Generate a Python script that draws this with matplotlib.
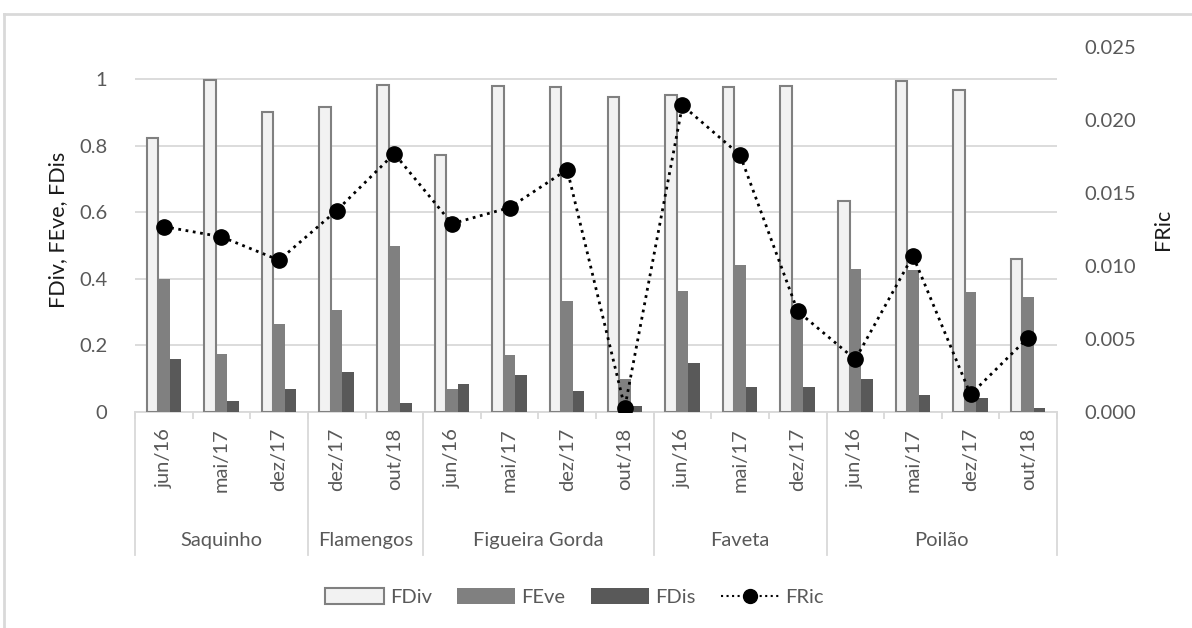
import numpy as np
import matplotlib.pyplot as plt
from matplotlib.patches import Patch
from matplotlib.lines import Line2D

plt.rcParams['font.family'] = ['Lato', 'DejaVu Sans']

# data
sites = ['Saquinho', 'Flamengos', 'Figueira Gorda', 'Faveta', 'Poilão']
site_dates = [
    ['jun/16', 'mai/17', 'dez/17'],
    ['dez/17', 'out/18'],
    ['jun/16', 'mai/17', 'dez/17', 'out/18'],
    ['jun/16', 'mai/17', 'dez/17'],
    ['jun/16', 'mai/17', 'dez/17', 'out/18'],
]
fdiv = [0.822, 0.997, 0.902, 0.917, 0.981, 0.772, 0.979, 0.975, 0.947,
        0.951, 0.975, 0.979, 0.635, 0.995, 0.967, 0.460]
feve = [0.398, 0.174, 0.265, 0.307, 0.500, 0.069, 0.172, 0.334, 0.098,
        0.364, 0.441, 0.305, 0.429, 0.426, 0.359, 0.346]
fdis = [0.160, 0.032, 0.069, 0.119, 0.028, 0.084, 0.110, 0.064, 0.019,
        0.146, 0.076, 0.076, 0.098, 0.051, 0.043, 0.011]
fric = [0.0127, 0.0120, 0.0104, 0.0138, 0.0177, 0.0129, 0.0140, 0.0166, 0.0003,
        0.0210, 0.0176, 0.0069, 0.0036, 0.0107, 0.0012, 0.0051]

dates = [d for grp in site_dates for d in grp]
n = len(dates)
x = np.arange(n)

tick_col = '#595959'
grid_col = '#D9D9D9'
fs = 14.5

fig = plt.figure(figsize=(11.92, 6.28), dpi=100)
W, H = 1192, 628
ax = fig.add_axes([135 / W, 1 - 412 / H, (1057 - 135) / W, (412 - 47) / H])

# figure border (top and left visible)
fig.add_artist(Line2D([4 / W, 1], [1 - 14 / H, 1 - 14 / H], color=grid_col, lw=2))
fig.add_artist(Line2D([4 / W, 4 / W], [0, 1 - 14 / H], color=grid_col, lw=2))

bw = 0.2
ax.bar(x - bw, fdiv, bw, color='#F2F2F2', edgecolor='#808080', linewidth=1.5, zorder=3)
ax.bar(x, feve, bw, color='#808080', zorder=3)
ax.bar(x + bw, fdis, bw, color='#595959', zorder=3)

ax.set_xlim(-0.5, n - 0.5)
ax.set_ylim(0, 1.0 * 365 / 333)
ax.set_yticks(np.arange(0, 1.01, 0.2))
ax.set_yticklabels(['0', '0.2', '0.4', '0.6', '0.8', '1'])
ax.yaxis.grid(True, color=grid_col, lw=1.3, zorder=0)
ax.set_axisbelow(True)
for s in ['top', 'right', 'left']:
    ax.spines[s].set_visible(False)
ax.spines['bottom'].set_color(grid_col)
ax.spines['bottom'].set_linewidth(1.3)
ax.tick_params(axis='y', length=0, labelsize=fs, labelcolor=tick_col, pad=20)
ax.set_xticks(np.arange(-0.5, n, 1.0))
ax.set_xticklabels([])
ax.tick_params(axis='x', length=5, color=grid_col, width=1.3)
ax.set_ylabel('FDiv, FEve, FDis', fontsize=15.5, color='#1a1a1a', labelpad=8)

# two-level category axis
tr = ax.get_xaxis_transform()
for i, d in enumerate(dates):
    ax.text(i, -0.044, d, transform=tr, rotation=90, ha='center', va='top',
            fontsize=fs, color=tick_col)
start = 0
bounds = [-0.5]
for site, grp in zip(sites, site_dates):
    end = start + len(grp)
    ax.text((start + end - 1) / 2, -0.351, site, transform=tr, ha='center', va='center',
            fontsize=fs, color=tick_col)
    bounds.append(end - 0.5)
    start = end
for b in bounds:
    ax.plot([b, b], [0, -0.392], transform=tr, color=grid_col, lw=1.3, clip_on=False)

ax2 = ax.twinx()
ax2.plot(x, fric, color='black', linestyle=':', linewidth=2, marker='o',
         markersize=11, zorder=5)
ax2.set_ylim(0, 0.025)
ax2.set_yticks(np.arange(0, 0.02501, 0.005))
ax2.set_yticklabels([f'{v:.3f}' for v in np.arange(0, 0.02501, 0.005)])
for s in ax2.spines.values():
    s.set_visible(False)
ax2.tick_params(axis='y', length=0, labelsize=fs, labelcolor=tick_col, pad=20)
ax2.set_ylabel('FRic', fontsize=15.5, color='#1a1a1a', labelpad=12)

handles = [
    Patch(facecolor='#F2F2F2', edgecolor='#808080', linewidth=1.5, label='FDiv'),
    Patch(facecolor='#808080', label='FEve'),
    Patch(facecolor='#595959', label='FDis'),
    Line2D([], [], color='black', linestyle=':', linewidth=1.5, marker='o',
           markersize=10, label='FRic'),
]
leg = fig.legend(handles=handles, loc='center', bbox_to_anchor=(0.482, 1 - 597 / H),
                 ncol=4, frameon=False, fontsize=fs, handlelength=2.9,
                 handleheight=0.8, columnspacing=1.25, handletextpad=0.3)
for t in leg.get_texts():
    t.set_color(tick_col)

fig.savefig('out.png', dpi=100)
